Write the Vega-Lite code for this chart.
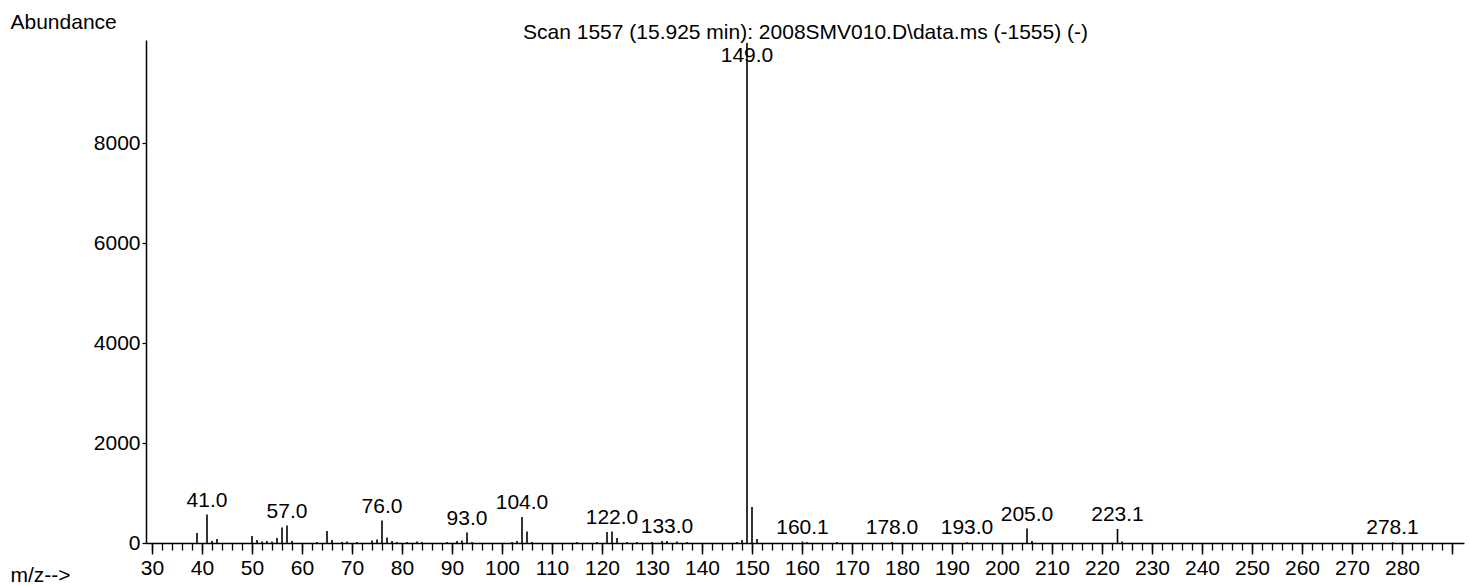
{
  "$schema": "https://vega.github.io/schema/vega-lite/v6.json",
  "width": 1318,
  "height": 503,
  "autosize": {"type": "none"},
  "padding": {"left": 146, "top": 40, "right": 6, "bottom": 43},
  "background": "white",
  "config": {
    "view": {"stroke": null},
    "font": "Liberation Sans",
    "axis": {"grid": false, "domainColor": "black", "tickColor": "black", "labelColor": "black", "titleColor": "black", "labelFont": "Liberation Sans", "titleFont": "Liberation Sans", "titleFontWeight": "normal"}
  },
  "datasets": {
    "peaks": [
      {"mz": 39, "abundance": 200, "labeled": false},
      {"mz": 41, "abundance": 570, "labeled": true},
      {"mz": 42, "abundance": 40, "labeled": false},
      {"mz": 43, "abundance": 80, "labeled": false},
      {"mz": 50, "abundance": 140, "labeled": false},
      {"mz": 51, "abundance": 60, "labeled": false},
      {"mz": 52, "abundance": 30, "labeled": false},
      {"mz": 53, "abundance": 40, "labeled": false},
      {"mz": 54, "abundance": 30, "labeled": false},
      {"mz": 55, "abundance": 100, "labeled": false},
      {"mz": 56, "abundance": 310, "labeled": false},
      {"mz": 57, "abundance": 350, "labeled": true},
      {"mz": 58, "abundance": 40, "labeled": false},
      {"mz": 63, "abundance": 20, "labeled": false},
      {"mz": 65, "abundance": 240, "labeled": false},
      {"mz": 66, "abundance": 60, "labeled": false},
      {"mz": 68, "abundance": 20, "labeled": false},
      {"mz": 69, "abundance": 30, "labeled": false},
      {"mz": 71, "abundance": 20, "labeled": false},
      {"mz": 74, "abundance": 50, "labeled": false},
      {"mz": 75, "abundance": 70, "labeled": false},
      {"mz": 76, "abundance": 450, "labeled": true},
      {"mz": 77, "abundance": 110, "labeled": false},
      {"mz": 78, "abundance": 40, "labeled": false},
      {"mz": 79, "abundance": 20, "labeled": false},
      {"mz": 81, "abundance": 20, "labeled": false},
      {"mz": 83, "abundance": 30, "labeled": false},
      {"mz": 84, "abundance": 20, "labeled": false},
      {"mz": 89, "abundance": 20, "labeled": false},
      {"mz": 91, "abundance": 40, "labeled": false},
      {"mz": 92, "abundance": 50, "labeled": false},
      {"mz": 93, "abundance": 210, "labeled": true},
      {"mz": 94, "abundance": 20, "labeled": false},
      {"mz": 102, "abundance": 20, "labeled": false},
      {"mz": 103, "abundance": 40, "labeled": false},
      {"mz": 104, "abundance": 520, "labeled": true},
      {"mz": 105, "abundance": 230, "labeled": false},
      {"mz": 106, "abundance": 20, "labeled": false},
      {"mz": 115, "abundance": 20, "labeled": false},
      {"mz": 119, "abundance": 20, "labeled": false},
      {"mz": 121, "abundance": 220, "labeled": false},
      {"mz": 122, "abundance": 230, "labeled": true},
      {"mz": 123, "abundance": 100, "labeled": false},
      {"mz": 125, "abundance": 20, "labeled": false},
      {"mz": 127, "abundance": 20, "labeled": false},
      {"mz": 130, "abundance": 20, "labeled": false},
      {"mz": 132, "abundance": 40, "labeled": false},
      {"mz": 133, "abundance": 40, "labeled": true},
      {"mz": 135, "abundance": 30, "labeled": false},
      {"mz": 137, "abundance": 20, "labeled": false},
      {"mz": 147, "abundance": 20, "labeled": false},
      {"mz": 148, "abundance": 60, "labeled": false},
      {"mz": 149, "abundance": 10000, "labeled": true},
      {"mz": 150, "abundance": 720, "labeled": false},
      {"mz": 151, "abundance": 80, "labeled": false},
      {"mz": 160.1, "abundance": 30, "labeled": true},
      {"mz": 161, "abundance": 20, "labeled": false},
      {"mz": 167, "abundance": 20, "labeled": false},
      {"mz": 178, "abundance": 20, "labeled": true},
      {"mz": 193, "abundance": 15, "labeled": true},
      {"mz": 205, "abundance": 290, "labeled": true},
      {"mz": 206, "abundance": 40, "labeled": false},
      {"mz": 223.1, "abundance": 280, "labeled": true},
      {"mz": 224, "abundance": 30, "labeled": false},
      {"mz": 278.1, "abundance": 15, "labeled": true}
    ]
  },
  "resolve": {"axis": {"x": "independent"}},
  "layer": [
    {
      "data": {"name": "peaks"},
      "mark": {"type": "rule", "color": "black", "strokeWidth": 1.6},
      "encoding": {
        "x": {
          "field": "mz", "type": "quantitative",
          "scale": {"domain": [28.8, 292.4], "nice": false, "zero": false},
          "axis": {
            "orient": "bottom",
            "values": [30, 40, 50, 60, 70, 80, 90, 100, 110, 120, 130, 140, 150, 160, 170, 180, 190, 200, 210, 220, 230, 240, 250, 260, 270, 280, 290],
            "labelExpr": "datum.value > 285 ? '' : datum.label",
            "tickSize": 11, "tickWidth": 1.5, "domainWidth": 1.5,
            "labelFontSize": 21, "labelPadding": 3, "labelFlush": false, "labelOverlap": false,
            "title": "m/z-->", "titleFontSize": 21, "titleAlign": "left", "titleBaseline": "alphabetic",
            "titleAnchor": "start", "titleX": -136, "titleY": 38
          }
        },
        "y": {
          "field": "abundance", "type": "quantitative",
          "scale": {"domain": [0, 10060], "nice": false},
          "axis": {
            "values": [0, 2000, 4000, 6000, 8000], "format": "d",
            "tickSize": 4, "tickWidth": 1.2, "domainWidth": 1.5,
            "labelFontSize": 21, "labelPadding": 2,
            "title": "Abundance", "titleFontSize": 21, "titleAngle": 0, "titleAlign": "left",
            "titleBaseline": "alphabetic", "titleAnchor": "start", "titleX": -136, "titleY": -12
          }
        },
        "y2": {"datum": 0}
      }
    },
    {
      "data": {"name": "peaks"},
      "transform": [{"filter": "datum.labeled && datum.mz != 149"}],
      "mark": {"type": "text", "baseline": "bottom", "align": "center", "dy": -4, "fontSize": 21, "font": "Liberation Sans", "color": "black"},
      "encoding": {
        "x": {
          "field": "mz", "type": "quantitative",
          "scale": {"domain": [28.8, 292.4], "nice": false, "zero": false},
          "axis": {
            "orient": "bottom",
            "values": [30,32,34,36,38,40,42,44,46,48,50,52,54,56,58,60,62,64,66,68,70,72,74,76,78,80,82,84,86,88,90,92,94,96,98,100,102,104,106,108,110,112,114,116,118,120,122,124,126,128,130,132,134,136,138,140,142,144,146,148,150,152,154,156,158,160,162,164,166,168,170,172,174,176,178,180,182,184,186,188,190,192,194,196,198,200,202,204,206,208,210,212,214,216,218,220,222,224,226,228,230,232,234,236,238,240,242,244,246,248,250,252,254,256,258,260,262,264,266,268,270,272,274,276,278,280,282,284,286,288,290],
            "labels": false, "domain": false, "tickSize": 7, "tickWidth": 1.3, "title": null
          }
        },
        "y": {
          "field": "abundance", "type": "quantitative",
          "scale": {"domain": [0, 10060], "nice": false},
          "axis": {
            "values": [0, 2000, 4000, 6000, 8000], "format": "d",
            "tickSize": 4, "tickWidth": 1.2, "domainWidth": 1.5,
            "labelFontSize": 21, "labelPadding": 2,
            "title": "Abundance", "titleFontSize": 21, "titleAngle": 0, "titleAlign": "left",
            "titleBaseline": "alphabetic", "titleAnchor": "start", "titleX": -136, "titleY": -12
          }
        },
        "text": {"field": "mz", "type": "quantitative", "format": ".1f"}
      }
    },
    {
      "data": {"name": "peaks"},
      "transform": [{"filter": "datum.mz == 149"}],
      "mark": {"type": "text", "baseline": "top", "align": "center", "dy": 2, "fontSize": 21, "font": "Liberation Sans", "color": "black"},
      "encoding": {
        "x": {
          "field": "mz", "type": "quantitative",
          "scale": {"domain": [28.8, 292.4], "nice": false, "zero": false},
          "axis": {
            "orient": "top", "domain": false, "ticks": false, "labels": false,
            "title": "Scan 1557 (15.925 min): 2008SMV010.D\\data.ms (-1555) (-)",
            "titleFontSize": 21, "titleAlign": "center", "titleBaseline": "alphabetic",
            "titleX": 659, "titleY": -2
          }
        },
        "y": {
          "field": "abundance", "type": "quantitative",
          "scale": {"domain": [0, 10060], "nice": false},
          "axis": {
            "values": [0, 2000, 4000, 6000, 8000], "format": "d",
            "tickSize": 4, "tickWidth": 1.2, "domainWidth": 1.5,
            "labelFontSize": 21, "labelPadding": 2,
            "title": "Abundance", "titleFontSize": 21, "titleAngle": 0, "titleAlign": "left",
            "titleBaseline": "alphabetic", "titleAnchor": "start", "titleX": -136, "titleY": -12
          }
        },
        "text": {"field": "mz", "type": "quantitative", "format": ".1f"}
      }
    }
  ]
}
